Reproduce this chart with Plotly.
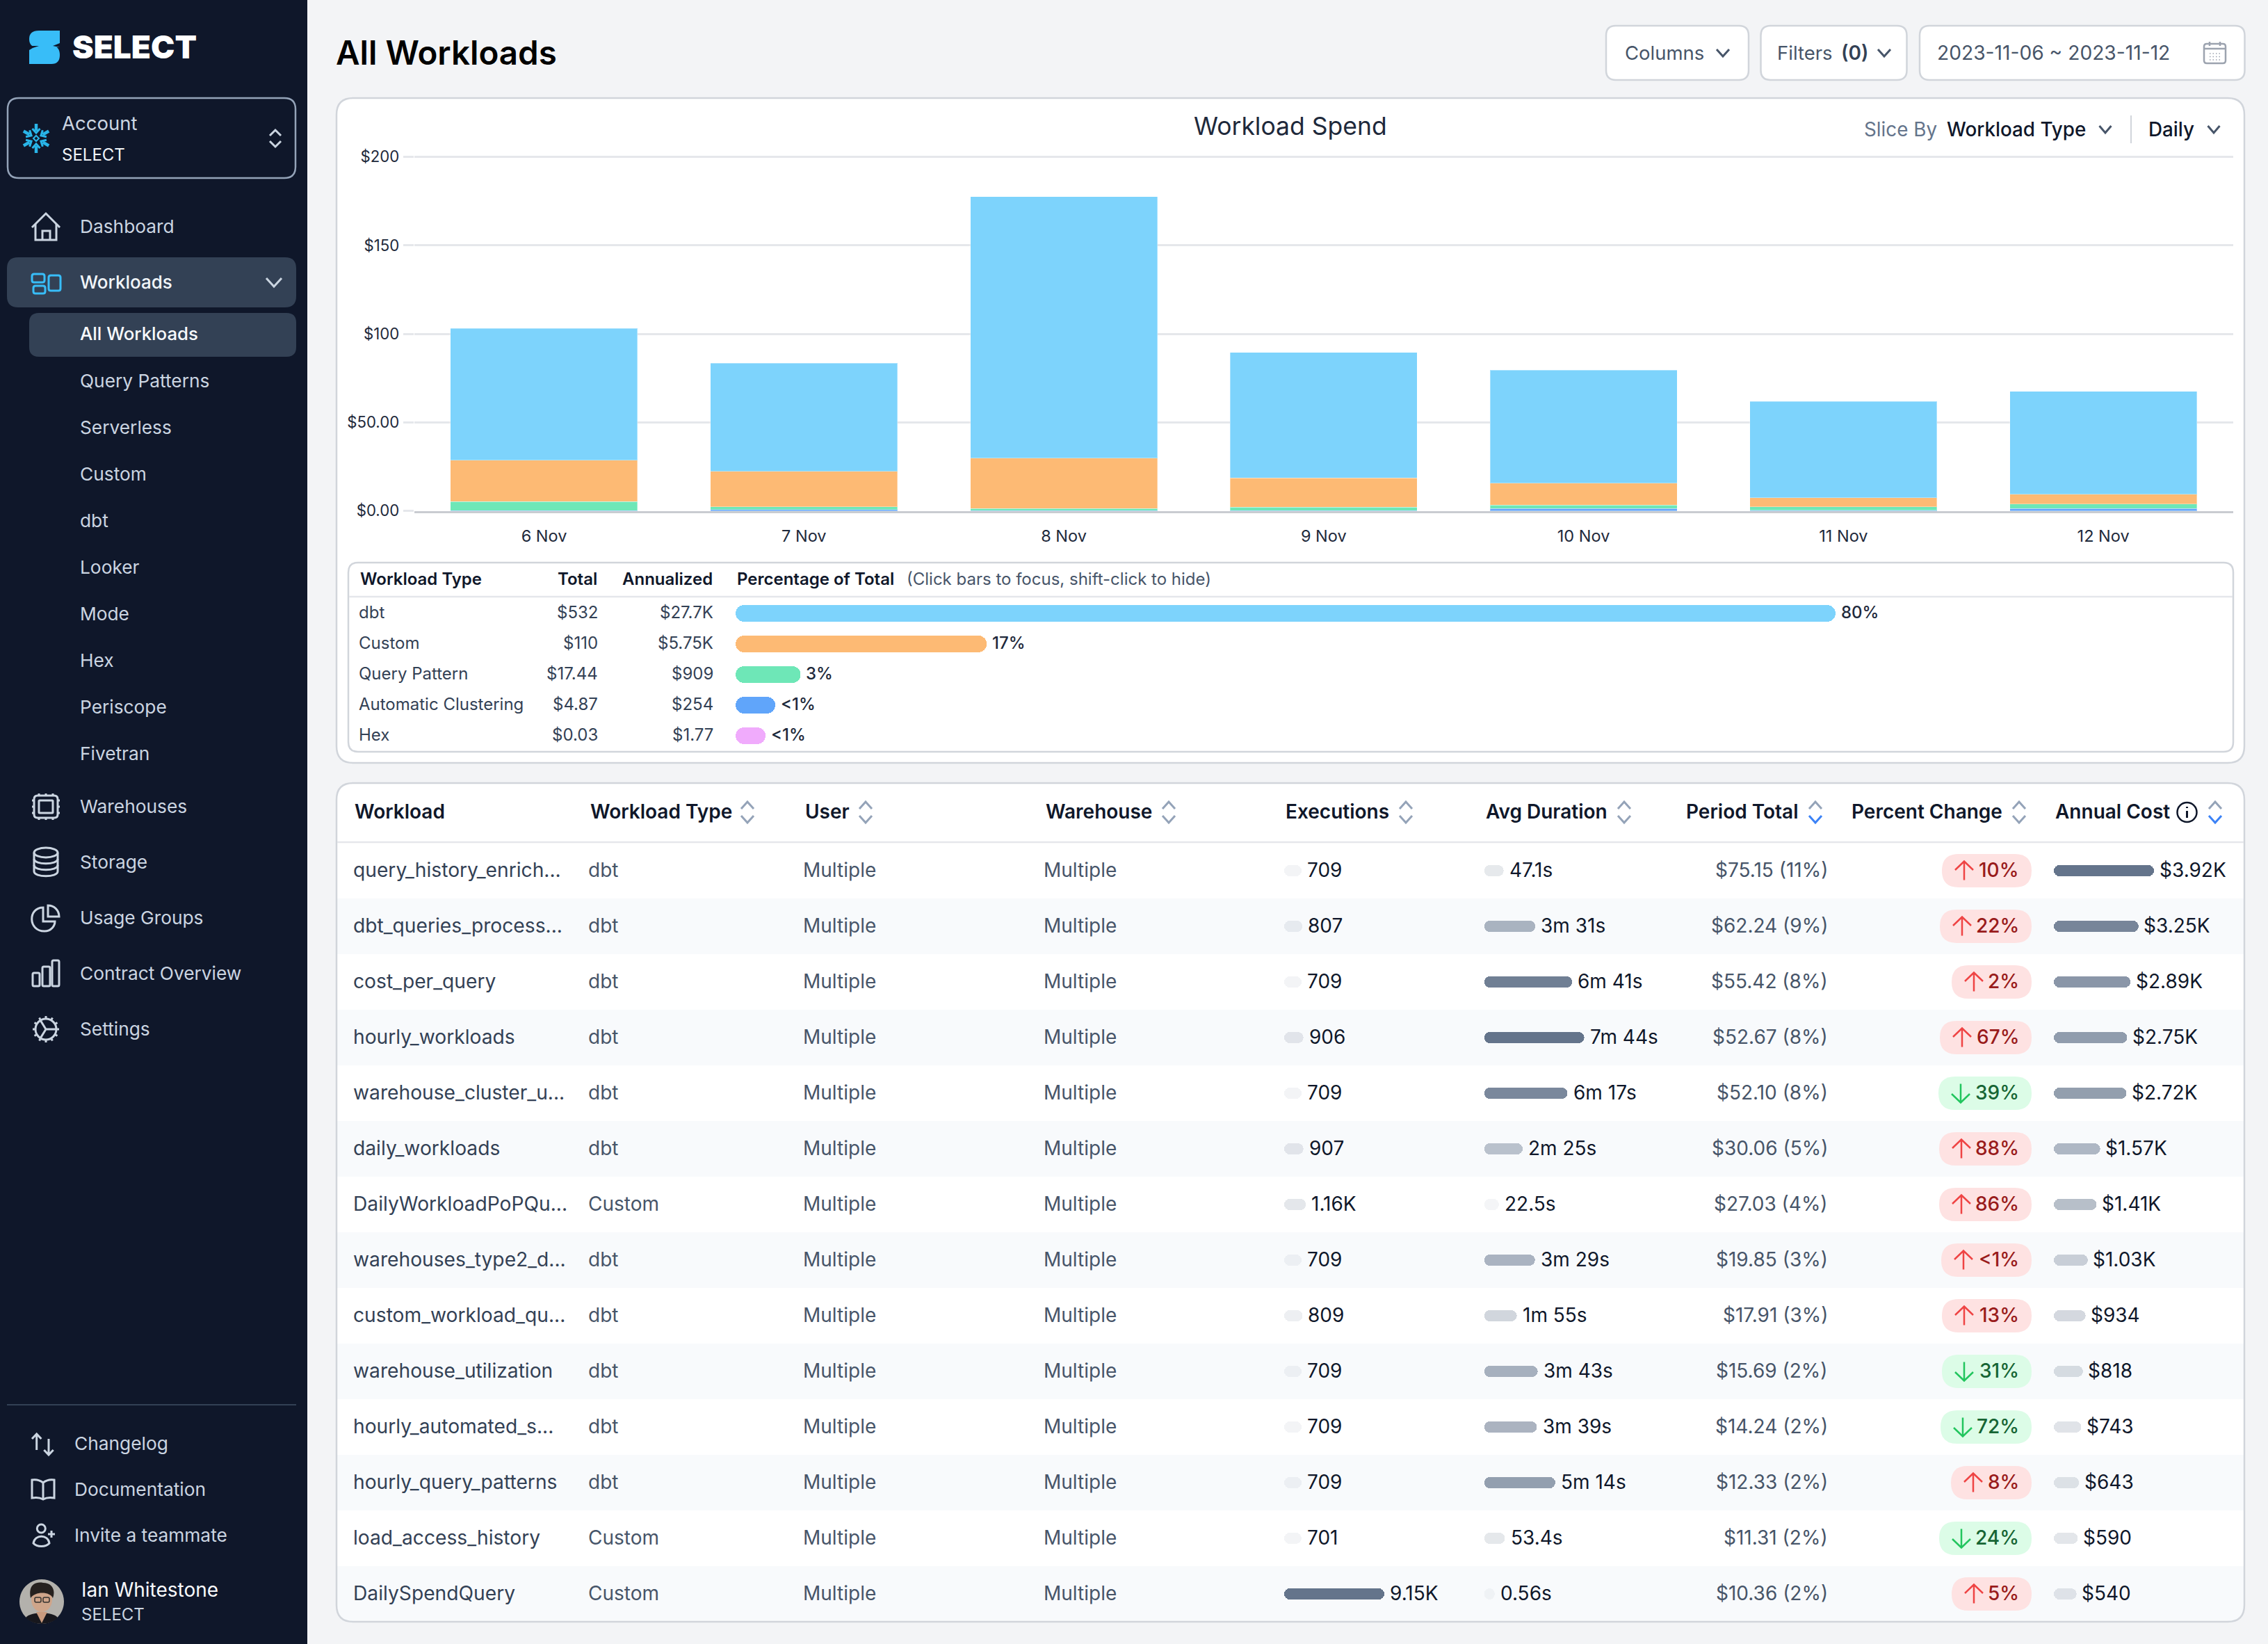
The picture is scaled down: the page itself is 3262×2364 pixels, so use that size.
import math, re
import numpy as np
import plotly.graph_objects as go

W, H = 3262, 2364
FONT = "Inter"

# ---------- data ----------
DAYS = ["6 Nov", "7 Nov", "8 Nov", "9 Nov", "10 Nov", "11 Nov", "12 Nov"]
SPEND_HEX = [0.03, 0, 0, 0, 0, 0, 0]
SPEND_AUTO = [0.2, 0.8, 0.2, 0.1, 1.4, 0.3, 1.4]
SPEND_QUERY = [5.0, 1.6, 1.2, 2.0, 2.0, 2.1, 2.6]
SPEND_CUSTOM = [23.5, 20.0, 28.5, 16.5, 12.2, 5.0, 5.4]
SPEND_DBT = [74.3, 61.0, 147.7, 71.0, 64.0, 54.5, 58.1]
Y_TICKS = [0, 50, 100, 150, 200]
Y_LABELS = ["$0.00", "$50.00", "$100", "$150", "$200"]

TYPES = ["dbt", "Custom", "Query Pattern", "Automatic Clustering", "Hex"]
TYPE_TOTALS = [532, 110, 17.44, 4.87, 0.03]
TYPE_TOTAL_LABELS = ["$532", "$110", "$17.44", "$4.87", "$0.03"]
TYPE_ANNUAL = ["$27.7K", "$5.75K", "$909", "$254", "$1.77"]
TYPE_PCT = ["80%", "17%", "3%", "&lt;1%", "&lt;1%"]
TYPE_COLORS = ["#7dd3fc", "#fdba74", "#6ee7b7", "#60a5fa", "#f0abfc"]

WORKLOADS = ["query_history_enrich...", "dbt_queries_process...", "cost_per_query", "hourly_workloads",
             "warehouse_cluster_u...", "daily_workloads", "DailyWorkloadPoPQu...", "warehouses_type2_d...",
             "custom_workload_qu...", "warehouse_utilization", "hourly_automated_s...", "hourly_query_patterns",
             "load_access_history", "DailySpendQuery"]
W_TYPE = ["dbt", "dbt", "dbt", "dbt", "dbt", "dbt", "Custom", "dbt", "dbt", "dbt", "dbt", "dbt", "Custom", "Custom"]
USERS = ["Multiple"] * 14
WAREHOUSES = ["Multiple"] * 14
EXECUTIONS = [709, 807, 709, 906, 709, 907, 1160, 709, 809, 709, 709, 709, 701, 9150]
EXEC_LABELS = ["709", "807", "709", "906", "709", "907", "1.16K", "709", "809", "709", "709", "709", "701", "9.15K"]
DURATION_S = [47.1, 211, 401, 464, 377, 145, 22.5, 209, 115, 223, 219, 314, 53.4, 0.56]
DURATION_LABELS = ["47.1s", "3m 31s", "6m 41s", "7m 44s", "6m 17s", "2m 25s", "22.5s", "3m 29s", "1m 55s",
                   "3m 43s", "3m 39s", "5m 14s", "53.4s", "0.56s"]
PERIOD = ["$75.15 (11%)", "$62.24 (9%)", "$55.42 (8%)", "$52.67 (8%)", "$52.10 (8%)", "$30.06 (5%)", "$27.03 (4%)",
          "$19.85 (3%)", "$17.91 (3%)", "$15.69 (2%)", "$14.24 (2%)", "$12.33 (2%)", "$11.31 (2%)", "$10.36 (2%)"]
CHANGE_LABELS = ["10%", "22%", "2%", "67%", "39%", "88%", "86%", "&lt;1%", "13%", "31%", "72%", "8%", "24%", "5%"]
CHANGE_UP = [1, 1, 1, 1, 0, 1, 1, 1, 1, 0, 0, 1, 0, 1]
ANNUAL = [3920, 3250, 2890, 2750, 2720, 1570, 1410, 1030, 934, 818, 743, 643, 590, 540]
ANNUAL_LABELS = ["$3.92K", "$3.25K", "$2.89K", "$2.75K", "$2.72K", "$1.57K", "$1.41K", "$1.03K", "$934", "$818",
                 "$743", "$643", "$590", "$540"]

NAV_MAIN = [("Dashboard", 326), ("Warehouses", 1160), ("Storage", 1240), ("Usage Groups", 1320),
            ("Contract Overview", 1400), ("Settings", 1480)]
NAV_SUB = ["Query Patterns", "Serverless", "Custom", "dbt", "Looker", "Mode", "Hex", "Periscope", "Fivetran"]
NAV_BOTTOM = [("Changelog", 2076), ("Documentation", 2142), ("Invite a teammate", 2208)]
HEADERS = [("Workload", 510), ("Workload Type", 849), ("User", 1158), ("Warehouse", 1504), ("Executions", 1849),
           ("Avg Duration", 2137), ("Period Total", 2425), ("Percent Change", 2663), ("Annual Cost", 2956)]
SORT_ICONS = [(1075, 0), (1245, 0), (1681, 0), (2022, 0), (2336, 0), (2611, 1), (2904, 0), (3186, 1)]

# ---------- helpers ----------
shapes, ann = [], []
NUM = re.compile(r"-?\d+\.?\d*")


def to_paper(path):
    idx = [0]

    def rep(m):
        v = float(m.group())
        i = idx[0]
        idx[0] += 1
        return f"{v / W:.6f}" if i % 2 == 0 else f"{1 - v / H:.6f}"

    return NUM.sub(rep, path)


def P(path, fill=None, line=None, lw=0, layer="below"):
    shapes.append(dict(type="path", path=to_paper(path), xref="paper", yref="paper", layer=layer,
                       fillcolor=fill if fill else "rgba(0,0,0,0)",
                       line=dict(color=line if line else "rgba(0,0,0,0)", width=lw)))


def rr(x0, y0, x1, y1, r):
    return (f"M{x0 + r} {y0} L{x1 - r} {y0} Q{x1} {y0} {x1} {y0 + r} L{x1} {y1 - r} Q{x1} {y1} {x1 - r} {y1} "
            f"L{x0 + r} {y1} Q{x0} {y1} {x0} {y1 - r} L{x0} {y0 + r} Q{x0} {y0} {x0 + r} {y0} Z")


def circ(cx, cy, r, ry=None):
    ry = ry or r
    k = 0.5523
    return (f"M{cx - r} {cy} C{cx - r} {cy - k * ry} {cx - k * r} {cy - ry} {cx} {cy - ry} "
            f"C{cx + k * r} {cy - ry} {cx + r} {cy - k * ry} {cx + r} {cy} "
            f"C{cx + r} {cy + k * ry} {cx + k * r} {cy + ry} {cx} {cy + ry} "
            f"C{cx - k * r} {cy + ry} {cx - r} {cy + k * ry} {cx - r} {cy} Z")


def chev(cx, cy, hw, hh, color, lw=3, up=False):
    s = -1 if up else 1
    P(f"M{cx - hw} {cy - s * hh} L{cx} {cy + s * hh} L{cx + hw} {cy - s * hh}", line=color, lw=lw)


def T(x, y, text, size=28, color="#0f172a", weight=400, anchor="left", xref="paper", yref="paper", xshift=0):
    ann.append(dict(x=x / W if xref == "paper" else x, y=1 - y / H if yref == "paper" else y, text=text,
                    xref=xref, yref=yref, xshift=xshift, yshift=1.5, showarrow=False, xanchor=anchor,
                    yanchor="middle", borderpad=0, borderwidth=0,
                    font=dict(family=FONT, size=size, color=color, weight=weight)))


def dom(a, b, total):
    return [a / total, b / total]


def ydom(top, bottom):
    return [1 - bottom / H, 1 - top / H]


BG, SIDE, HILITE = "#f3f4f6", "#0f172a", "#334155"
BORDER, SOFT = "#d1d5db", "#e5e7eb"
NAVTXT = "#cbd5e1"

# ---------- page chrome ----------
P(f"M0 0 L{W} 0 L{W} {H} L0 {H} Z", fill=BG)
P(f"M0 0 L442 0 L442 {H} L0 {H} Z", fill=SIDE)
P("M56 44 L86 44 L86 68 L54 68 Q42 68 42 56 Q42 44 56 44 Z", fill="#38bdf8")
P("M42 66 L74 66 Q86 66 86 79 Q86 92 74 92 L42 92 Z", fill="#38bdf8")
P("M42 66 L56 66 Q48 68 42 72 Z", fill=SIDE)
P("M86 62 L86 68 L76 66 Z", fill=SIDE)
T(104, 68, "SELECT", 46, "#ffffff", 900)

P(rr(11, 141, 425, 256, 16), line="#94a3b8", lw=2.5)
for k in range(6):
    a = math.radians(30 + 60 * k)
    cx, cy = 52, 199
    dx, dy = math.cos(a), math.sin(a)
    px_, py_ = -dy, dx
    P(f"M{cx + 11 * dx} {cy + 11 * dy} L{cx + 21 * dx} {cy + 21 * dy}", line="#29b5e8", lw=4.5)
    P(f"M{cx + 14 * dx + 5.5 * px_} {cy + 14 * dy + 5.5 * py_} L{cx + 8 * dx} {cy + 8 * dy} "
      f"L{cx + 14 * dx - 5.5 * px_} {cy + 14 * dy - 5.5 * py_}", line="#29b5e8", lw=3)
P("M52 195 L56 199 L52 203 L48 199 Z", line="#29b5e8", lw=2)
T(89, 178, "Account", 27.5, "#cbd5e1")
T(89, 224, "SELECT", 24, "#f1f5f9")
chev(396, 191, 8, 4, NAVTXT, up=True)
chev(396, 207, 8, 4, NAVTXT)

# nav
P(rr(10, 370, 426, 442, 16), fill=HILITE)
P(rr(42, 450, 426, 513, 14), fill=HILITE)
T(114.5, 406.5, "Workloads", 26, "#f1f5f9", 500)
T(114.5, 481.5, "All Workloads", 25.8, "#f8fafc", 500)
chev(394, 406, 11, 6, NAVTXT)
for name, y in NAV_MAIN:
    T(114.5, y + 1, name, 26.3, NAVTXT, 400)
for i, name in enumerate(NAV_SUB):
    T(114.5, 549 + 67.05 * i, name, 26.3, NAVTXT, 400)
for name, y in NAV_BOTTOM:
    T(107, y + 1, name, 26.3, NAVTXT, 400)

IC = dict(line=NAVTXT, lw=3)
P("M46 327 L66 307 L86 327", **IC)
P("M51 322 L51 345 L81 345 L81 322", **IC)
P("M61 345 L61 332 L72 332 L72 345", **IC)
B = dict(line="#38bdf8", lw=3)
P(rr(46, 394, 64, 406, 3), **B)
P(rr(48, 411, 65, 422, 3), **B)
P(rr(70, 396, 87, 418, 3), **B)
# warehouses
P(rr(49, 1144, 83, 1176, 5), **IC)
P(rr(56, 1151, 76, 1169, 1), **IC)
for v in (56, 66, 76):
    P(f"M{v} 1141 L{v} 1144", **IC)
    P(f"M{v} 1176 L{v} 1179", **IC)
for v in (1151, 1160, 1169):
    P(f"M46 {v} L49 {v}", **IC)
    P(f"M83 {v} L86 {v}", **IC)
# storage
P(circ(66, 1226, 17, 7), **IC)
P("M49 1226 L49 1253 C49 1262 83 1262 83 1253 L83 1226", **IC)
P("M49 1235 C49 1244 83 1244 83 1235", **IC)
P("M49 1244 C49 1253 83 1253 83 1244", **IC)
# usage groups
P("M62 1305 C40 1305 40 1339 64 1339 C74 1339 79 1331 79 1325 L62 1325 Z", **IC)
P("M69 1302 L69 1318 L85 1318 C85 1309 78 1302 69 1302 Z", **IC)
# contract
P(rr(47, 1399, 57, 1418, 2), **IC)
P(rr(61, 1390, 72, 1418, 2), **IC)
P(rr(75, 1381, 85, 1418, 2), **IC)
# settings
P(circ(66, 1480, 15), **IC)
for k in range(12):
    a = math.radians(30 * k)
    P(f"M{66 + 15 * math.cos(a)} {1480 + 15 * math.sin(a)} L{66 + 19 * math.cos(a)} {1480 + 19 * math.sin(a)}", **IC)
P("M66 1480 L81 1480 M66 1480 L58 1467 M66 1480 L58 1493", **IC)

# sidebar bottom
P("M10 2020 L426 2020", line=HILITE, lw=2)
P("M52.7 2085 L52.7 2062 M46 2069 L52.7 2062 L59.4 2069", **IC)
P("M70 2069 L70 2092 M63.3 2085 L70 2092 L76.7 2085", **IC)
P("M62 2132 C57 2128 52 2127 46 2128 L46 2154 C52 2153 57 2153 62 2156 C67 2153 72 2153 78 2154 L78 2128 "
  "C72 2127 67 2128 62 2132 L62 2156", **IC)
P(circ(59.3, 2198, 6), **IC)
P("M48 2219 C50 2206 69 2206 71 2219 C66 2225 53 2225 48 2219 Z", **IC)
P("M69 2206 L79 2206 M74 2201 L74 2211", **IC)
# avatar
P(circ(60, 2303, 32), fill="#b3b1ac")
P("M37 2326 C44 2317 76 2317 83 2326 C72 2338 48 2338 37 2326 Z", fill="#17171d")
P("M52 2318 L68 2318 L60 2334 Z", fill="#c99a7e")
P(circ(60, 2300, 15, 18), fill="#cfa58a")
P("M44 2298 C40 2278 52 2274 62 2276 C76 2276 80 2288 76 2298 C72 2288 50 2288 44 2298 Z", fill="#26211f")
P(rr(50, 2297, 59, 2304, 2), line="#33302e", lw=1.5)
P(rr(62, 2297, 71, 2304, 2), line="#33302e", lw=1.5)
T(117, 2287, "Ian Whitestone", 28, "#f8fafc")
T(117, 2323, "SELECT", 24, NAVTXT)

# header
T(483, 76.5, "All Workloads", 47.5, "#000000", 600)
for x0, x1 in ((2310, 2515), (2532.5, 2742.5), (2761, 3228.5)):
    P(rr(x0, 37, x1, 115, 14), fill="#ffffff", line=BORDER, lw=2.5)
T(2337, 77.5, "Columns", 27.5, "#475569")
chev(2478, 76, 9, 5, "#475569")
T(2555.6, 77.5, "Filters", 27.5, "#475569")
T(2648, 77.5, "(0)", 28, "#334155", 600)
chev(2710, 76, 9, 5, "#475569")
T(2786, 77.5, "2023-11-06 ~ 2023-11-12", 28.2, "#475569")
C = dict(line="#9ca3af", lw=2.5)
P(rr(3170, 63, 3201, 91, 4), **C)
P("M3170 70 L3201 70 M3178 60 L3178 66 M3193 60 L3193 66", **C)
for gx in (3178, 3182.5, 3187, 3191.5):
    for gy in (77, 81.5, 86):
        P(f"M{gx} {gy} L{gx + 1.5} {gy}", line="#9ca3af", lw=1.5)

# cards
P(rr(484, 141, 3228, 1097, 24), fill="#ffffff", line=BORDER, lw=2.5)
P(rr(484, 1126, 3228, 2332, 24), fill="#ffffff")

# chart head
T(1856, 183, "Workload Spend", 35.5, "#1e293b", 400, anchor="center")
T(2681, 187, "Slice By", 27.8, "#64748b")
T(2800, 187, "Workload Type", 27.8, "#0f172a", 500)
chev(3028, 186, 8.5, 5, "#475569")
P("M3065 166 L3065 206", line=BORDER, lw=2)
T(3090, 187, "Daily", 27.8, "#0f172a", 500)
chev(3184, 186, 8.5, 5, "#475569")

# legend box
P(rr(501, 809, 3212, 1081, 14), line=BORDER, lw=2.5)
P("M502 858 L3211 858", line=SOFT, lw=2.5)
T(518, 834, "Workload Type", 24, "#0f172a", 600)
T(859, 834, "Total", 24, "#0f172a", 600, anchor="right")
T(1024.5, 834, "Annualized", 24, "#0f172a", 600, anchor="right")
T(1060, 834, "Percentage of Total", 24, "#0f172a", 600)
T(1304, 834, "(Click bars to focus, shift-click to hide)", 24, "#475569")

# main table chrome
for i in range(14):
    if i % 2 == 1:
        y0, y1 = 1212 + 80 * i, 1292 + 80 * i
        if i == 13:
            P(f"M485 {y0} L3227 {y0} L3227 {y1 - 24} Q3227 {y1} 3203 {y1} L509 {y1} Q485 {y1} 485 {y1 - 24} Z",
              fill="#f8fafc")
        else:
            P(f"M485 {y0} L3227 {y0} L3227 {y1} L485 {y1} Z", fill="#f8fafc")
P(rr(484, 1126, 3228, 2332, 24), line=BORDER, lw=2.5)
P("M485 1211 L3227 1211", line=SOFT, lw=2.5)
for name, x in HEADERS:
    T(x, 1168, name, 28, "#0f172a", 600)
for x, blue in SORT_ICONS:
    chev(x, 1158, 9, 5, "#94a3b8", up=True)
    chev(x, 1178, 9, 5, "#3b82f6" if blue else "#94a3b8")
P(circ(3145.5, 1168, 14), line="#0f172a", lw=2.5)
P("M3145.5 1166 L3145.5 1176 M3145.5 1160 L3145.5 1162", line="#0f172a", lw=3)

# pills
PILL_W = {"10%": 129, "22%": 132, "2%": 115, "67%": 132, "39%": 134, "88%": 133, "86%": 133, "&lt;1%": 130,
          "13%": 129, "31%": 129, "72%": 131, "8%": 116, "24%": 133, "5%": 115}
for i, (lab, up) in enumerate(zip(CHANGE_LABELS, CHANGE_UP)):
    yc = 1252 + 80 * i
    x1 = 2922
    x0 = x1 - PILL_W[lab]
    P(rr(x0, yc - 24, x1, yc + 24, 24), fill="#fee2e2" if up else "#dcfce7")
    ax = x0 + 32
    col = "#ef4444" if up else "#22c55e"
    s = 1 if up else -1
    P(f"M{ax} {yc + s * 13.5} L{ax} {yc - s * 13.5} M{ax - 13} {yc - s * 1} L{ax} {yc - s * 13.5} L{ax + 13} {yc - s * 1}",
      line=col, lw=2.5)

# ---------- traces ----------
fig = go.Figure()
for name, vals, col in [("Hex", SPEND_HEX, TYPE_COLORS[4]), ("Automatic Clustering", SPEND_AUTO, TYPE_COLORS[3]),
                        ("Query Pattern", SPEND_QUERY, TYPE_COLORS[2]), ("Custom", SPEND_CUSTOM, TYPE_COLORS[1]),
                        ("dbt", SPEND_DBT, TYPE_COLORS[0])]:
    fig.add_trace(go.Bar(x=DAYS, y=vals, name=name, xaxis="x", yaxis="y",
                         marker=dict(color=col, line=dict(color="rgba(255,255,255,0.35)", width=1))))

MIN_BAR = 15  # every inline bar keeps this many pixels at zero
FULL_BAR = 144
LEG_MIN, LEG_FULL = 43, 1582
leg_base = -LEG_MIN / (LEG_FULL - LEG_MIN) * max(TYPE_TOTALS)
fig.add_trace(go.Bar(x=[v - leg_base for v in TYPE_TOTALS], y=TYPES, base=leg_base, orientation="h",
                     xaxis="x2", yaxis="y2", width=24 / 44,
                     marker=dict(color=TYPE_COLORS, cornerradius=12, line=dict(width=0))))

OP_X = [0, 0.08, 0.1, 0.19, 0.25, 0.31, 0.4, 0.45, 0.7, 0.86, 1]
OP_Y = [0.06, 0.08, 0.16, 0.2, 0.3, 0.42, 0.5, 0.53, 0.7, 0.92, 1]


def inline(values, xa):
    vmax = max(values)
    base = -MIN_BAR / (FULL_BAR - MIN_BAR) * vmax
    cols = [f"rgba(100,116,139,{np.interp(v / vmax, OP_X, OP_Y):.3f})" for v in values]
    fig.add_trace(go.Bar(x=[v - base for v in values], y=WORKLOADS, base=base, orientation="h",
                         xaxis=xa, yaxis="y3", width=16 / 80,
                         marker=dict(color=cols, cornerradius=8, line=dict(width=0))))
    return [base, vmax]


r3 = inline(EXECUTIONS, "x3")
r4 = inline(DURATION_S, "x4")
r5 = inline(ANNUAL, "x5")

# ---------- cell text ----------
for i, name in enumerate(TYPES):
    T(516, name, name, 24, "#334155", yref="y2")
    T(859.5, name, TYPE_TOTAL_LABELS[i], 24, "#334155", anchor="right", yref="y2")
    T(1026, name, TYPE_ANNUAL[i], 24, "#334155", anchor="right", yref="y2")
    T(TYPE_TOTALS[i], name, TYPE_PCT[i], 24, "#1e293b", 500, xref="x2", yref="y2", xshift=7.5)

for i, wl in enumerate(WORKLOADS):
    T(508, wl, wl, 28.2, "#334155", yref="y3")
    T(846.5, wl, W_TYPE[i], 28, "#475569", yref="y3")
    T(1155, wl, USERS[i], 28, "#475569", yref="y3")
    T(1501, wl, WAREHOUSES[i], 28, "#475569", yref="y3")
    T(EXECUTIONS[i], wl, EXEC_LABELS[i], 28, "#0f172a", xref="x3", yref="y3", xshift=8)
    T(DURATION_S[i], wl, DURATION_LABELS[i], 28, "#0f172a", xref="x4", yref="y3", xshift=8)
    T(2629, wl, PERIOD[i], 28, "#475569", anchor="right", yref="y3")
    T(2904, wl, CHANGE_LABELS[i], 28, "#991b1b" if CHANGE_UP[i] else "#166534", 500, anchor="right", yref="y3")
    T(ANNUAL[i], wl, ANNUAL_LABELS[i], 28, "#0f172a", xref="x5", yref="y3", xshift=7.5)

# ---------- layout ----------
hidden = dict(visible=False, fixedrange=True)
fig.update_layout(
    width=W, height=H, autosize=False, margin=dict(l=0, r=0, t=0, b=0, pad=0, autoexpand=False),
    paper_bgcolor=BG, plot_bgcolor="rgba(0,0,0,0)", showlegend=False, barmode="stack",
    bargap=1 - 269 / 373.8, hovermode=False, font=dict(family=FONT),
    shapes=shapes, annotations=ann,
    xaxis=dict(domain=dom(595.6, 3212, W), anchor="y", type="category", categoryorder="array", categoryarray=DAYS,
               showline=True, linecolor="#c9ccd1", linewidth=2.5, showgrid=False, ticks="outside",
               ticklen=13, tickcolor="rgba(0,0,0,0)", tickfont=dict(family=FONT, size=23.5, color="#1e293b")),
    yaxis=dict(domain=ydom(224.5, 734.7), anchor="x", range=[0, 200.4], tickvals=Y_TICKS, ticktext=Y_LABELS,
               showgrid=True, gridcolor=SOFT, gridwidth=2.5, zeroline=False, showline=False, ticks="outside",
               ticklen=15, tickcolor=SOFT, tickwidth=2.5, ticklabelstandoff=1,
               tickfont=dict(family=FONT, size=22.2, color="#1e293b")),
    xaxis2=dict(domain=dom(1058, 1058 + LEG_FULL, W), anchor="y2", range=[leg_base, max(TYPE_TOTALS)], **hidden),
    yaxis2=dict(domain=ydom(860, 1080), anchor="x2", type="category", categoryorder="array", categoryarray=TYPES,
                range=[4.5, -0.5], **hidden),
    xaxis3=dict(domain=dom(1847, 1847 + FULL_BAR, W), anchor="y3", range=r3, **hidden),
    xaxis4=dict(domain=dom(2134.7, 2134.7 + FULL_BAR, W), anchor="y3", range=r4, **hidden),
    xaxis5=dict(domain=dom(2954, 2954 + FULL_BAR, W), anchor="y3", range=r5, **hidden),
    yaxis3=dict(domain=ydom(1212, 2332), anchor="x3", type="category", categoryorder="array", categoryarray=WORKLOADS,
                range=[13.5, -0.5], **hidden),
)

fig.write_html("out.html", config={"displayModeBar": False},
               post_script="document.documentElement.style.margin='0';document.body.style.margin='0';"
                           "document.body.style.overflow='hidden';document.body.style.background='#f3f4f6';")
